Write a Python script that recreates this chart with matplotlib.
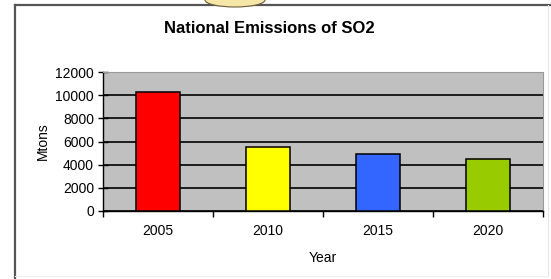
import matplotlib
matplotlib.use("Agg")
import matplotlib.pyplot as plt
from matplotlib.lines import Line2D
from matplotlib.patches import Ellipse

years = ["2005", "2010", "2015", "2020"]
emissions = [10250, 5500, 4900, 4500]
bar_colors = ["#FF0000", "#FFFF00", "#3366FF", "#99CC00"]
yticks = [0, 2000, 4000, 6000, 8000, 10000, 12000]

plt.rcParams['font.family'] = ['Liberation Sans', 'DejaVu Sans']

W, H = 551, 279
fig = plt.figure(figsize=(W / 100, H / 100), dpi=100)
fig.patch.set_facecolor("white")

def fx(px):
    return px / W

def fy(py):
    return 1 - py / H

# outer frame
fig.add_artist(Line2D([fx(15), fx(15)], [fy(5), fy(279)], color="#555555", lw=1.6))
fig.add_artist(Line2D([fx(15), fx(551)], [fy(5), fy(5)], color="#555555", lw=1.6))
fig.add_artist(Line2D([fx(548), fx(548)], [fy(5), fy(276)], color="#E6E6E6", lw=0.8))
fig.add_artist(Line2D([fx(15), fx(548)], [fy(276), fy(276)], color="#EEEEEE", lw=0.8))
# clipart blob at top
fig.add_artist(Ellipse((fx(235), fy(0)), fx(60) - fx(0), (fy(0) - fy(14)),
                       facecolor="#F6E7A8", edgecolor="#6B5A3A", lw=0.8, zorder=3))

ax = fig.add_axes([fx(103), fy(211), fx(543) - fx(103), fy(72) - fy(211)])
ax.set_facecolor("#C0C0C0")
x = list(range(len(years)))
ax.bar(x, emissions, width=0.4, color=bar_colors, edgecolor="black", linewidth=1.1, zorder=3)

ax.set_xlim(-0.5, len(years) - 0.5)
ax.set_ylim(0, 12000)
ax.set_yticks(yticks)
ax.set_yticklabels([str(v) for v in yticks], fontsize=10)
ax.yaxis.grid(True, color="black", lw=1.2, zorder=1)
ax.set_axisbelow(True)

ax.set_xticks(x)
ax.set_xticklabels(years, fontsize=10)
ax.tick_params(axis="x", length=0, pad=9.5)
ax.set_xticks([i - 0.5 for i in range(len(years) + 1)], minor=True)
ax.tick_params(axis="x", which="minor", length=4, direction="out", width=1.0)
ax.tick_params(axis="y", length=7, direction="inout", width=1.0, pad=3)

for s in ["left", "bottom"]:
    ax.spines[s].set_color("black")
    ax.spines[s].set_linewidth(1.0)
for s in ["top", "right"]:
    ax.spines[s].set_color("#999999")
    ax.spines[s].set_linewidth(0.8)

ax.set_xlabel("Year", fontsize=10, labelpad=9)
ax.set_ylabel("Mtons", fontsize=10, labelpad=3.5)

fig.text(fx(269), fy(28), "National Emissions of SO2", ha="center", va="center",
         fontsize=12, fontweight="bold")

fig.savefig("out.png", dpi=100)
